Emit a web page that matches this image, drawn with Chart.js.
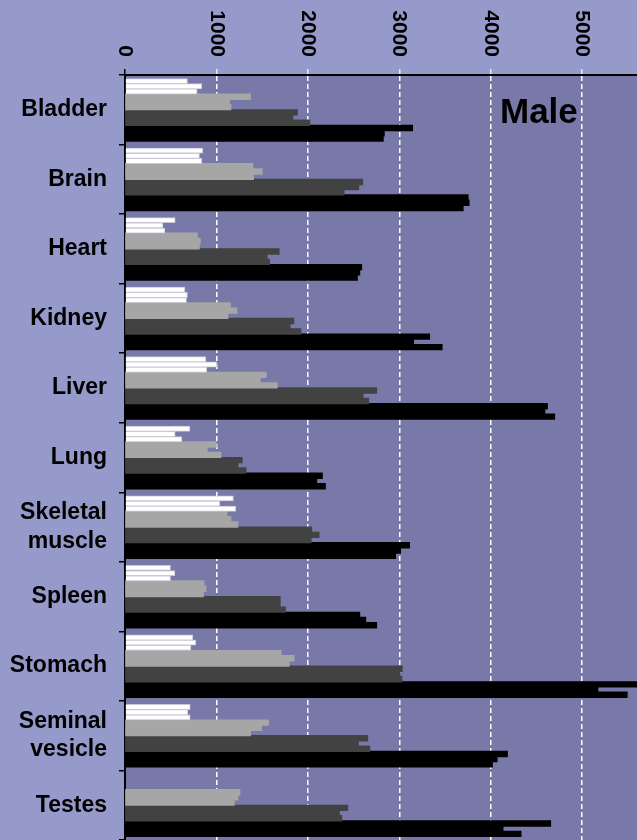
<!DOCTYPE html>
<html>
<head>
<meta charset="utf-8">
<script src="https://cdn.jsdelivr.net/npm/chart.js@4"></script>
<style>
  html, body { margin: 0; padding: 0; background: #959acb; }
  #wrap { width: 637px; height: 840px; }
</style>
</head>
<body>
<div id="wrap"><canvas id="tissueChart" width="637" height="840"></canvas></div>
<script>
const tissues = ["Bladder", "Brain", "Heart", "Kidney", "Liver", "Lung", ["Skeletal", "muscle"],
  "Spleen", "Stomach", ["Seminal", "vesicle"], "Testes"];
const xTicks = [0, 1000, 2000, 3000, 4000, 5000];

// three replicates per group, top to bottom inside each tissue
const white1 = [683, 851, 549, 655, 884, 710, 1186, 498, 742, 713, null];
const white2 = [840, 815, 415, 683, 1004, 549, 1037, 546, 775, 688, null];
const white3 = [789, 840, 437, 673, 895, 622, 1212, 498, 721, 713, null];
const gray1 = [1371, 1397, 789, 1150, 1543, 997, 1114, 862, 1706, 1568, 1255];
const gray2 = [1142, 1499, 822, 1223, 1477, 898, 1157, 884, 1848, 1491, 1234];
const gray3 = [1157, 1404, 811, 1124, 1663, 1048, 1234, 855, 1794, 1371, 1193];
const dark1 = [1884, 2598, 1684, 1845, 2751, 1281, 2041, 1695, 3031, 2653, 2434];
const dark2 = [1834, 2555, 1553, 1805, 2602, 1234, 2121, 1695, 3005, 2550, 2343];
const dark3 = [2019, 2394, 1579, 1921, 2664, 1321, 2034, 1753, 3027, 2675, 2369];
const black1 = [3144, 3751, 2587, 3330, 4618, 2157, 3111, 2566, 5700, 4181, 4654];
const black2 = [2834, 3762, 2566, 3155, 4590, 2096, 3013, 2631, 5170, 4068, 4133];
const black3 = [2823, 3697, 2540, 3467, 4698, 2190, 2959, 2751, 5491, 4017, 4330];

const FONT = "'Liberation Sans', Arial, sans-serif";

function series(data, color, border) {
  return {
    data: data,
    backgroundColor: color,
    borderColor: border || color,
    borderWidth: border ? 1 : 0,
    inflateAmount: border ? 0.33 : 0.6,
    barPercentage: 1,
    categoryPercentage: 0.9
  };
}

// plot background, rotated top labels and the panel caption
const decor = {
  id: "decor",
  beforeDraw(chart) {
    const { ctx, chartArea: a } = chart;
    ctx.save();
    ctx.fillStyle = "#7879a9";
    ctx.fillRect(a.left, a.top, a.right - a.left, a.bottom - a.top);
    ctx.restore();
  },
  afterDraw(chart) {
    const { ctx, chartArea: a } = chart;
    const xs = chart.scales.x;
    ctx.save();
    ctx.fillStyle = "#000";
    ctx.font = "bold 21px " + FONT;
    ctx.textAlign = "right";
    ctx.textBaseline = "middle";
    xTicks.forEach(v => {
      ctx.save();
      ctx.translate(xs.getPixelForValue(v), a.top - 18);
      ctx.rotate(Math.PI / 2);
      ctx.fillText(String(v), 0, 0);
      ctx.restore();
    });
    ctx.font = "bold 35px " + FONT;
    ctx.textAlign = "left";
    ctx.textBaseline = "alphabetic";
    ctx.fillText("Male", a.right - 137, a.top + 48);
    ctx.restore();
  }
};

new Chart(document.getElementById("tissueChart"), {
  type: "bar",
  data: {
    labels: tissues,
    datasets: [
      series(white1, "#ffffff", "#c9c9d6"),
      series(white2, "#ffffff", "#c9c9d6"),
      series(white3, "#ffffff", "#c9c9d6"),
      series(gray1, "#a6a6a6"),
      series(gray2, "#a6a6a6"),
      series(gray3, "#a6a6a6"),
      series(dark1, "#424242"),
      series(dark2, "#424242"),
      series(dark3, "#424242"),
      series(black1, "#000000"),
      series(black2, "#000000"),
      series(black3, "#000000")
    ]
  },
  options: {
    indexAxis: "y",
    responsive: false,
    devicePixelRatio: 1,
    animation: false,
    layout: { padding: 0 },
    plugins: {
      legend: { display: false },
      tooltip: { enabled: false }
    },
    scales: {
      x: {
        position: "top",
        min: 0,
        max: 5600,
        afterBuildTicks: scale => { scale.ticks = xTicks.map(v => ({ value: v })); },
        afterFit: scale => {
          scale.height = 75;
          scale.paddingLeft = 0;
          scale.paddingRight = 0;
        },
        ticks: { display: false },
        grid: {
          color: ctx => (ctx.tick && ctx.tick.value === 0 ? "rgba(0,0,0,0)" : "#ffffff"),
          lineWidth: 1.5,
          tickLength: 6,
          tickColor: ctx => (ctx.tick && ctx.tick.value === 0 ? "#000000" : "#e8e8f0")
        },
        border: { color: "#000000", width: 2, dash: [5, 3] }
      },
      y: {
        offset: true,
        afterFit: scale => {
          scale.width = 125;
          scale.paddingTop = 0;
          scale.paddingBottom = 0;
        },
        ticks: {
          color: "#000000",
          padding: 12,
          font: { family: FONT, size: 23, weight: "bold", lineHeight: 1.25 }
        },
        grid: {
          offset: true,
          drawOnChartArea: false,
          tickLength: 6,
          tickColor: "#000000",
          lineWidth: 1.5
        },
        border: { color: "#000000", width: 2 }
      }
    }
  },
  plugins: [decor]
});
</script>
</body>
</html>
